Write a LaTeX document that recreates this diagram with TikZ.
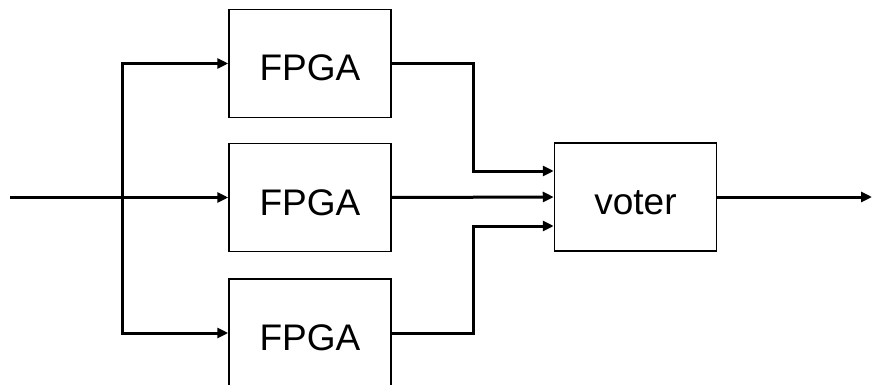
\documentclass[tikz,border=0pt]{standalone}
\usepackage{fontspec}
\setmainfont{Liberation Sans}
\usetikzlibrary{arrows.meta}
\begin{document}
\begin{tikzpicture}[x=1pt,y=-1pt,
  blk/.style={draw, line width=1.5pt, minimum width=162pt, minimum height=108pt, inner sep=0pt, text height=35pt, text depth=0pt, font=\fontsize{37}{40}\selectfont},
  conn/.style={line width=3pt, -{Triangle[length=11pt,width=10pt]}},
  wire/.style={line width=3pt}]
\clip (0,0) rectangle (872,385);
\useasboundingbox (0,0) rectangle (872,385);
\node[blk] (f1) at (310,63.5) {FPGA};
\node[blk] (f2) at (310,197.5) {FPGA};
\node[blk] (f3) at (310,333) {FPGA};
\node[blk] (v) at (635.5,197) {voter};
\coordinate (in) at (10,197.5);
\coordinate (split) at (122,197.5);
\coordinate (out) at (872,197);
\draw[conn] (in) -- (f2.west);
\draw[conn] (split) |- (f1.west);
\draw[conn] (split) |- (f3.west);
\draw[conn] (f1.east) -- (473,63.5) |- ([yshift=26pt]v.west);
\draw[conn] (f2.east) -- (v.west);
\draw[conn] (f3.east) -- (473,333) |- ([yshift=-29pt]v.west);
\draw[conn] (v.east) -- (out);
\end{tikzpicture}
\end{document}
